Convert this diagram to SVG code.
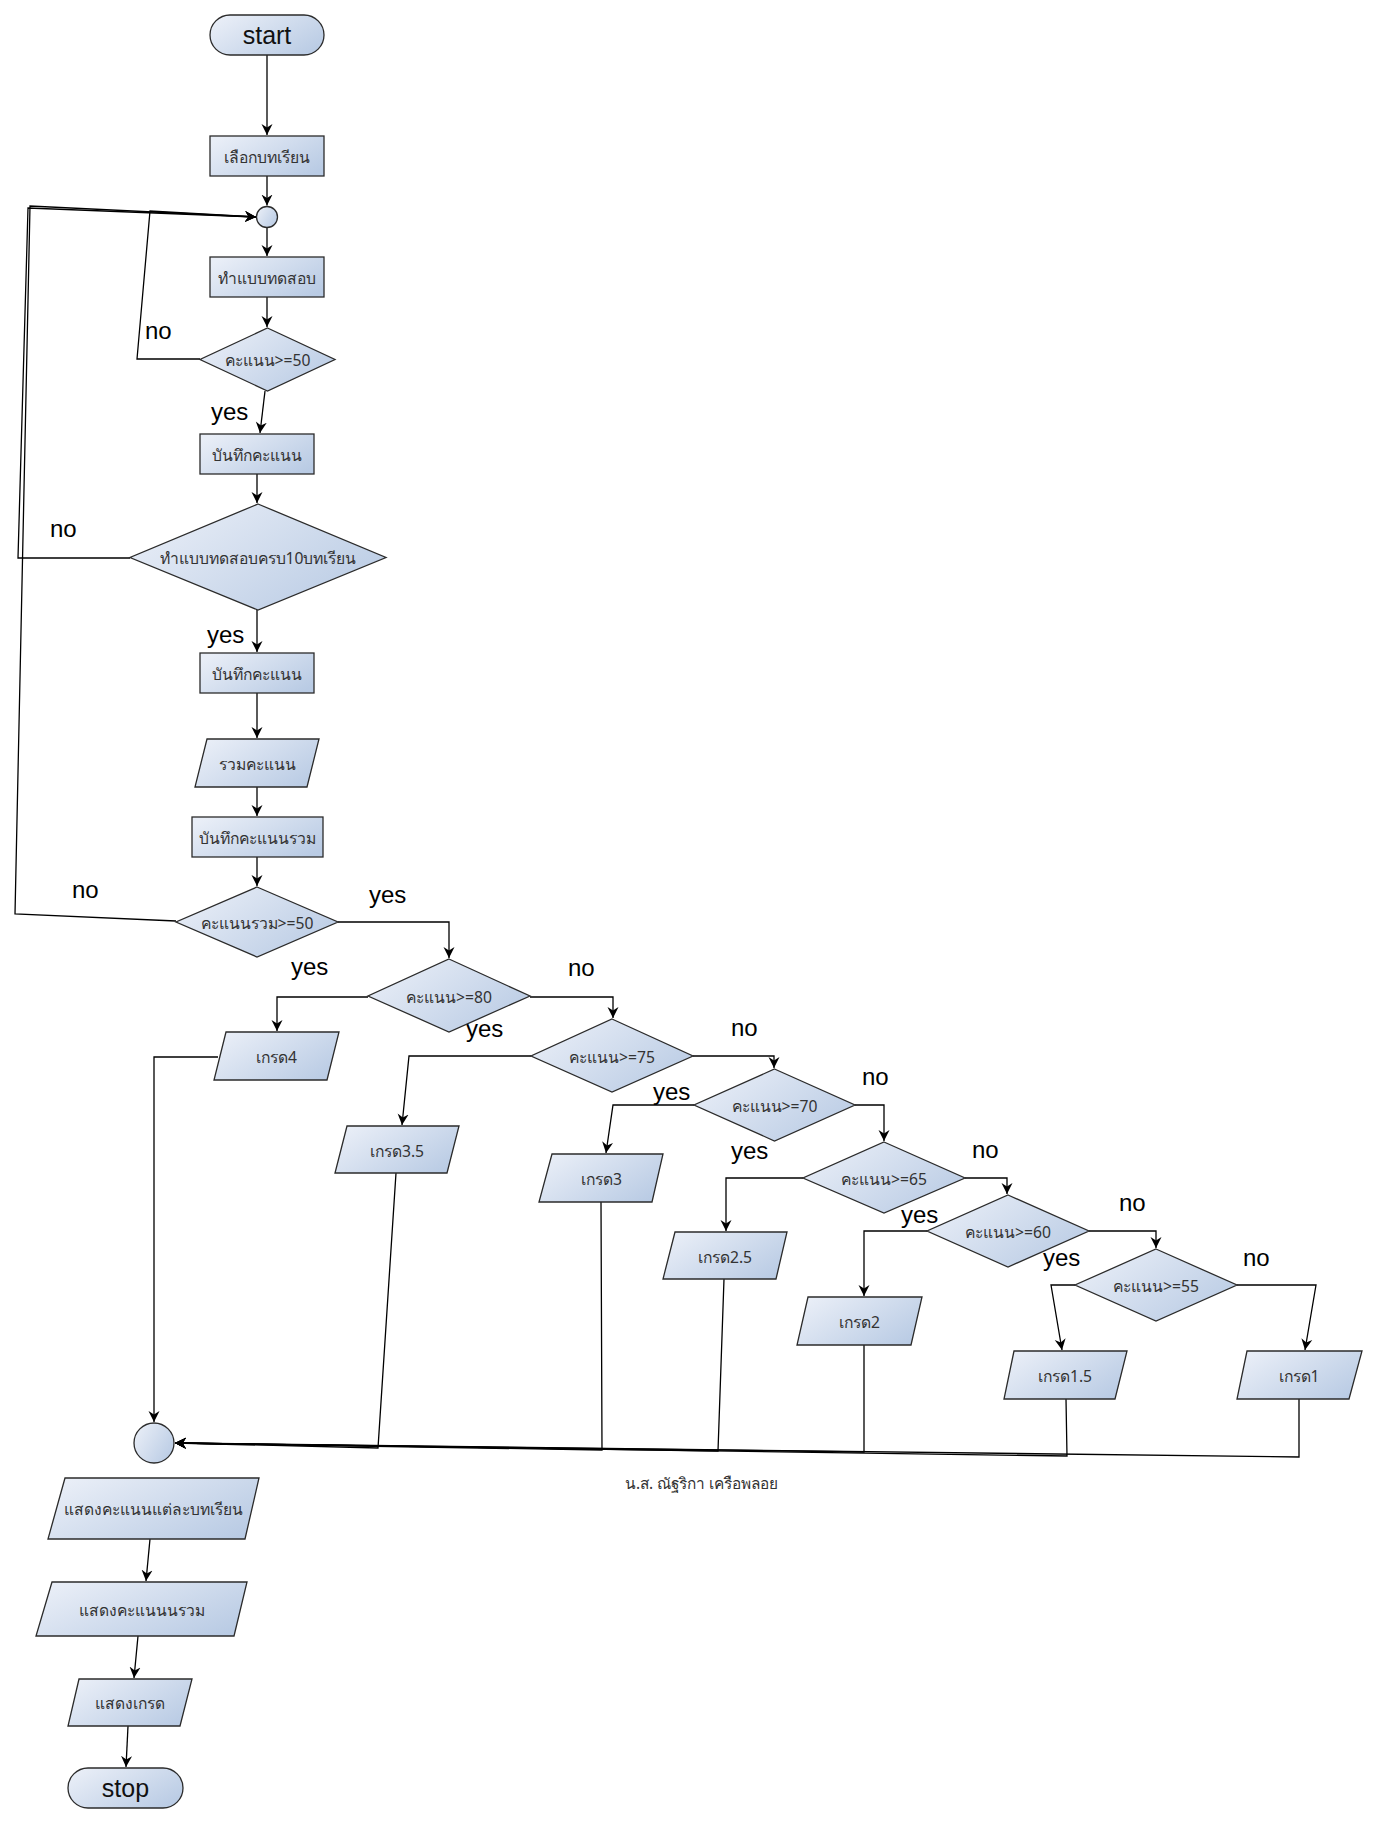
<svg xmlns="http://www.w3.org/2000/svg" width="1377" height="1824" viewBox="0 0 1377 1824">
<style>
.n{stroke:#2b2b2b;stroke-width:1.3;fill:url(#g)}
.t{font-family:'Noto Sans','DejaVu Sans',sans-serif;font-size:15.7px;fill:#333;text-anchor:middle}
.tb{font-family:'Noto Sans','DejaVu Sans',sans-serif;font-size:15.6px;fill:#333;text-anchor:middle}
.big{font-family:'Liberation Sans',Arial,sans-serif;font-size:25px;fill:#111;text-anchor:middle}
.l{font-family:'Liberation Sans',Arial,sans-serif;font-size:24px;fill:#000}
.c{fill:none;stroke:#000;stroke-width:1.3}
.a{marker-end:url(#ar)}
.cap{font-family:'Noto Sans','DejaVu Sans',sans-serif;font-size:15.4px;fill:#333}
</style>
<defs>
<linearGradient id="g" x1="0" y1="0.2" x2="1" y2="0.8">
<stop offset="0" stop-color="#e9eef7"/>
<stop offset="1" stop-color="#b9cbe4"/>
</linearGradient>
<marker id="ar" markerWidth="12" markerHeight="12" refX="11" refY="6" orient="auto" markerUnits="userSpaceOnUse">
<path d="M0,0.5 L11,6 L0,11.5 L3.5,6 z" fill="#000"/>
</marker>
</defs>
<rect width="1377" height="1824" fill="#fff"/>

<g id="connectors">
<path class="c a" d="M267,55 V135"/>
<path class="c a" d="M267,176 V205.5"/>
<path class="c a" d="M267,228 V256"/>
<path class="c a" d="M267,297 V327"/>
<path class="c a" d="M200,359 H137 L150,211 L256,217"/>
<path class="c a" d="M265,391 L260,433"/>
<path class="c a" d="M257,474 V503"/>
<path class="c a" d="M130,558 H18 L28,208 L256,217"/>
<path class="c a" d="M257,610 V652"/>
<path class="c a" d="M257,693 V738"/>
<path class="c a" d="M257,787 V816"/>
<path class="c a" d="M257,857 V886"/>
<path class="c a" d="M176,921 L15,914 L30,206 L256,217"/>
<path class="c a" d="M338,922 H449 V958"/>
<path class="c a" d="M368,997 H277 V1031"/>
<path class="c a" d="M530,997 H613 V1018"/>
<path class="c a" d="M531,1056 H409 L402,1125"/>
<path class="c a" d="M693,1056 H774 V1068"/>
<path class="c a" d="M694,1105 H613 L606,1153"/>
<path class="c a" d="M855,1105 H884 V1141"/>
<path class="c a" d="M803,1178 H726 V1231"/>
<path class="c a" d="M965,1178 H1007 V1194"/>
<path class="c a" d="M927,1231 H864 V1296"/>
<path class="c a" d="M1089,1231 H1156 V1248"/>
<path class="c a" d="M1075,1285 H1051 L1062,1350"/>
<path class="c a" d="M1237,1285 H1316 L1305,1350"/>
<path class="c a" d="M218,1057 H154 V1422"/>
<path class="c a" d="M396,1173 L378,1448 L175,1443"/>
<path class="c a" d="M601,1202 L602,1450 L175,1443"/>
<path class="c a" d="M724,1279 L718,1451 L175,1443"/>
<path class="c a" d="M864,1345 V1452 L175,1443"/>
<path class="c a" d="M1066,1399 L1067,1456 L175,1443"/>
<path class="c a" d="M1299,1399 V1457 L175,1443"/>
<path class="c a" d="M150,1539 L146,1581"/>
<path class="c a" d="M138,1636 L134,1678"/>
<path class="c a" d="M128,1726 L126,1767"/>
</g>

<g id="labels">
<text class="l" x="145" y="339">no</text>
<text class="l" x="211" y="420">yes</text>
<text class="l" x="50" y="537">no</text>
<text class="l" x="207" y="643">yes</text>
<text class="l" x="72" y="898">no</text>
<text class="l" x="369" y="903">yes</text>
<text class="l" x="291" y="975">yes</text>
<text class="l" x="568" y="976">no</text>
<text class="l" x="466" y="1037">yes</text>
<text class="l" x="731" y="1036">no</text>
<text class="l" x="653" y="1100">yes</text>
<text class="l" x="862" y="1085">no</text>
<text class="l" x="731" y="1159">yes</text>
<text class="l" x="972" y="1158">no</text>
<text class="l" x="901" y="1223">yes</text>
<text class="l" x="1119" y="1211">no</text>
<text class="l" x="1043" y="1266">yes</text>
<text class="l" x="1243" y="1266">no</text>
</g>

<g id="start"><rect class="n" x="210" y="15" width="114" height="40" rx="20"/><text class="big" x="267" y="44">start</text></g>
<g id="select"><rect class="n" x="210" y="136" width="114" height="40"/><text class="t" x="267" y="162.5">เลือกบทเรียน</text></g>
<g id="join1"><circle class="n" cx="267" cy="217" r="10.5"/></g>
<g id="test"><rect class="n" x="210" y="257" width="114" height="40"/><text class="t" x="267" y="283.5">ทำแบบทดสอบ</text></g>
<g id="d50"><polygon class="n" points="267.5,328 335,359.5 267.5,391 200,359.5"/><text class="t" x="267.5" y="366">คะแนน&gt;=50</text></g>
<g id="save1"><rect class="n" x="200" y="434" width="114" height="40"/><text class="t" x="257" y="460.5">บันทึกคะแนน</text></g>
<g id="d10"><polygon class="n" points="258,504 386,557.5 258,610 130,557.5"/><text class="t" x="258" y="564">ทำแบบทดสอบครบ10บทเรียน</text></g>
<g id="save2"><rect class="n" x="200" y="653" width="114" height="40"/><text class="t" x="257" y="679.5">บันทึกคะแนน</text></g>
<g id="sum"><polygon class="n" points="207,739 319,739 307,787 195,787"/><text class="t" x="257" y="769.5">รวมคะแนน</text></g>
<g id="savesum"><rect class="n" x="192" y="817" width="131" height="40"/><text class="t" x="257.5" y="843.5">บันทึกคะแนนรวม</text></g>
<g id="dsum"><polygon class="n" points="257,887 338,922 257,957 176,922"/><text class="t" x="257" y="928.5">คะแนนรวม&gt;=50</text></g>
<g id="d80"><polygon class="n" points="449,959 530,996 449,1032 368,996"/><text class="t" x="449" y="1002.5">คะแนน&gt;=80</text></g>
<g id="d75"><polygon class="n" points="612,1019 693,1056 612,1092 531,1056"/><text class="t" x="612" y="1062.5">คะแนน&gt;=75</text></g>
<g id="d70"><polygon class="n" points="774.5,1069 855,1105 774.5,1141 694,1105"/><text class="t" x="774.5" y="1111.5">คะแนน&gt;=70</text></g>
<g id="d65"><polygon class="n" points="884,1142 965,1178 884,1213 803,1178"/><text class="t" x="884" y="1184.5">คะแนน&gt;=65</text></g>
<g id="d60"><polygon class="n" points="1008,1195 1089,1231 1008,1267 927,1231"/><text class="t" x="1008" y="1237.5">คะแนน&gt;=60</text></g>
<g id="d55"><polygon class="n" points="1156,1249 1237,1285 1156,1321 1075,1285"/><text class="t" x="1156" y="1291.5">คะแนน&gt;=55</text></g>
<g id="g4"><polygon class="n" points="226,1032 339,1032 327,1080 214,1080"/><text class="t" x="276.5" y="1062.5">เกรด4</text></g>
<g id="g35"><polygon class="n" points="347,1126 459,1126 447,1173 335,1173"/><text class="t" x="397" y="1156.5">เกรด3.5</text></g>
<g id="g3"><polygon class="n" points="552,1154 663,1154 652,1202 539,1202"/><text class="t" x="601.5" y="1184.5">เกรด3</text></g>
<g id="g25"><polygon class="n" points="675,1232 787,1232 776,1279 663,1279"/><text class="t" x="725" y="1262.5">เกรด2.5</text></g>
<g id="g2"><polygon class="n" points="808,1297 922,1297 911,1345 797,1345"/><text class="t" x="859.5" y="1327.5">เกรด2</text></g>
<g id="g15"><polygon class="n" points="1014,1351 1127,1351 1115,1399 1004,1399"/><text class="t" x="1065" y="1381.5">เกรด1.5</text></g>
<g id="g1"><polygon class="n" points="1247,1351 1362,1351 1349,1399 1237,1399"/><text class="t" x="1299" y="1381.5">เกรด1</text></g>
<g id="join2"><circle class="n" cx="154" cy="1443" r="20"/></g>
<g id="show1"><polygon class="n" points="65,1478 259,1478 245,1539 48,1539"/><text class="tb" x="153" y="1515">แสดงคะแนนแต่ละบทเรียน</text></g>
<g id="show2"><polygon class="n" points="52,1582 247,1582 234,1636 36,1636"/><text class="tb" x="141.5" y="1615.5">แสดงคะแนนนรวม</text></g>
<g id="show3"><polygon class="n" points="79,1679 192,1679 180,1726 68,1726"/><text class="tb" x="130" y="1708.5">แสดงเกรด</text></g>
<g id="stop"><rect class="n" x="68" y="1768" width="115" height="40" rx="20"/><text class="big" x="125.5" y="1797">stop</text></g>
<g id="caption"><text class="cap" x="625" y="1489">น.ส. ณัฐริกา เครือพลอย</text></g>
</svg>
